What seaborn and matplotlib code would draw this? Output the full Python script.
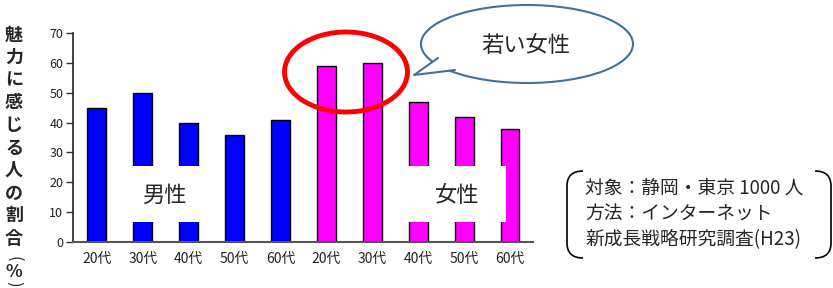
import numpy as np
import pandas as pd
import matplotlib
matplotlib.use("Agg")
import matplotlib.pyplot as plt
import seaborn as sns
from matplotlib.patches import Ellipse, Rectangle, Polygon
from matplotlib.path import Path
from matplotlib.patches import PathPatch

# data
ages = ["20代", "30代", "40代", "50代", "60代"]
male = [45, 50, 40, 36, 41]
female = [59, 60, 47, 42, 38]
y_label = "魅力に感じる人の割合"
note_lines = ["対象：静岡・東京 1000 人", "方法：インターネット", "新成長戦略研究調査(H23)"]

df = pd.DataFrame({
    "key": [f"m{a}" for a in ages] + [f"f{a}" for a in ages],
    "value": male + female,
    "sex": ["男性"] * 5 + ["女性"] * 5,
})

sns.set_style("white")
plt.rcParams["font.family"] = ["Noto Sans CJK JP", "DejaVu Sans"]

W, H = 833, 288
fig = plt.figure(figsize=(W / 100, H / 100), dpi=100)
ax = fig.add_axes([73 / W, 1 - 242 / H, (533 - 73) / W, (242 - 33) / H])

sns.barplot(data=df, x="key", y="value", hue="sex",
            palette={"男性": "#0000FF", "女性": "#FF00FF"}, saturation=1,
            dodge=False, width=0.41, edgecolor="black", linewidth=1,
            legend=False, ax=ax)

ax.set_ylim(0, 70)
ax.set_xlim(-0.52, 9.5)
ax.set_yticks(range(0, 71, 10))
ax.set_xticks(range(10))
ax.set_xticklabels(ages + ages, fontsize=10, color="#222222")
ax.set_xticks(np.arange(0.5, 9.5, 1), minor=True)
ax.tick_params(axis="x", which="major", length=0, pad=7)
ax.tick_params(axis="x", which="minor", direction="in", length=5, width=1, color="#333333")
ax.tick_params(axis="y", direction="out", length=5, width=1, color="#333333",
               labelsize=9, labelcolor="#222222", pad=2, left=True)
ax.set_xlabel("")
ax.set_ylabel("")
for s in ["top", "right"]:
    ax.spines[s].set_visible(False)
ax.spines["left"].set_color("#222222")
ax.spines["bottom"].set_color("#555555")
ax.spines["left"].set_linewidth(1.2)
ax.spines["bottom"].set_linewidth(1.5)

# white label boxes
ax.add_patch(Rectangle((0.67, 6.7), 1.68, 18.8, facecolor="white", edgecolor="none", zorder=5))
ax.text(1.46, 15.5, "男性", fontsize=16, ha="center", va="center", zorder=6)
ax.add_patch(Rectangle((6.78, 6.7), 2.13, 18.8, facecolor="white", edgecolor="none", zorder=5))
ax.text(7.84, 15.5, "女性", fontsize=16, ha="center", va="center", zorder=6)


def fx(px):
    return px / W


def fy(py):
    return 1 - py / H


# red highlight ellipse
fig.patches.append(Ellipse((fx(346), fy(72)), 123 / W, 80 / H, transform=fig.transFigure,
                           facecolor="none", edgecolor="#FF0000", linewidth=3.5, zorder=10))

# speech bubble
bc = "#41719C"
fig.patches.append(Ellipse((fx(527), fy(44)), 212 / W, 78 / H, transform=fig.transFigure,
                           facecolor="white", edgecolor=bc, linewidth=1.5, zorder=10))
tail = [(fx(438), fy(58)), (fx(414), fy(75)), (fx(455), fy(70))]
fig.patches.append(Polygon(tail, closed=True, transform=fig.transFigure,
                           facecolor="white", edgecolor="none", zorder=11))
fig.lines.append(plt.Line2D([tail[0][0], tail[1][0], tail[2][0]],
                            [tail[0][1], tail[1][1], tail[2][1]],
                            transform=fig.transFigure, color=bc, linewidth=1.5, zorder=12))
fig.text(fx(526), fy(45), "若い女性", fontsize=16, ha="center", va="center", zorder=13)

# y label, stacked vertically
for i, ch in enumerate(y_label):
    fig.text(fx(14), fy(35 + 22.6 * i), ch, fontsize=13, fontweight="bold",
             ha="center", va="center")
fig.text(fx(14), fy(259), "(", fontsize=12, rotation=270, ha="center", va="center")
fig.text(fx(14), fy(272), "%", fontsize=12.5, fontweight="bold", ha="center", va="center")
fig.text(fx(14), fy(284), ")", fontsize=12, rotation=270, ha="center", va="center")

# note with bracket sides
for i, line in enumerate(note_lines):
    fig.text(fx(585), fy(188 + 26 * i), line, fontsize=13.5, ha="left", va="center")


def bracket(x0, x1):
    verts = [(fx(x0), fy(171)), (fx(x1), fy(171)), (fx(x1), fy(186)),
             (fx(x1), fy(243)), (fx(x1), fy(258)), (fx(x0), fy(258))]
    codes = [Path.MOVETO, Path.CURVE3, Path.CURVE3, Path.LINETO, Path.CURVE3, Path.CURVE3]
    fig.patches.append(PathPatch(Path(verts, codes), transform=fig.transFigure,
                                 facecolor="none", edgecolor="black", linewidth=1.2))


bracket(583, 567)
bracket(815, 831)

fig.savefig("out.png", dpi=100)
